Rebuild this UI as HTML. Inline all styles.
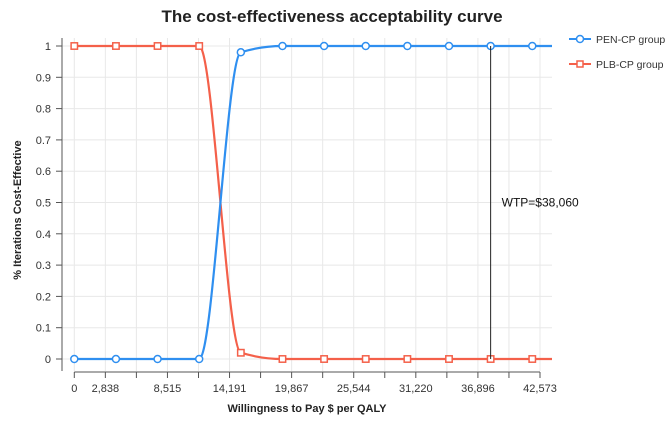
<!DOCTYPE html>
<html><head><meta charset="utf-8"><style>
body{margin:0;background:#fff;font-family:"Liberation Sans",sans-serif}
svg text{font-family:"Liberation Sans",sans-serif}
</style></head><body>
<svg id="c" width="669" height="417"></svg>
<script>
const xTickLabels=["0","2,838","","8,515","","14,191","","19,867","","25,544","","31,220","","36,896","","42,573"];
const wtpValues=[0,3806,7612,11418,15224,19030,22836,26642,30448,34254,38060,41866];
const penValues=[0,0,0,0,0.98,1,1,1,1,1,1,1];
const plbValues=[1,1,1,1,0.02,0,0,0,0,0,0,0];
const yTicks=[0,0.1,0.2,0.3,0.4,0.5,0.6,0.7,0.8,0.9,1];
const wtpLine=38060;
const NS="http://www.w3.org/2000/svg",svg=document.getElementById('c');
function el(t,a,p){const e=document.createElementNS(NS,t);for(const k in a)e.setAttribute(k,a[k]);(p||svg).appendChild(e);return e;}
const X0=74.3,X1=540,XMAX=42573,Y0=359,Y1=46,PR=552;
const sx=v=>X0+(X1-X0)*v/XMAX, sy=v=>Y0+(Y1-Y0)*v;
let t=el('text',{x:332,y:22,'text-anchor':'middle','font-size':17,'font-weight':'bold',fill:'#222'});t.textContent='The cost-effectiveness acceptability curve';

for(let i=0;i<xTickLabels.length;i++){const x=sx(i*XMAX/15);
 const g=el('line',{x1:x,x2:x,y1:Y1-8,y2:Y0+12,stroke:'#e8e8e8'});
 const tk=el('line',{x1:x,x2:x,y1:372,y2:378,stroke:'#555'});
 if(xTickLabels[i]){const l=el('text',{x:x,y:392,'text-anchor':'middle','font-size':11,fill:'#333'});l.textContent=xTickLabels[i];}
}
yTicks.forEach(v=>{const y=sy(v);
 const g=el('line',{x1:62,x2:PR,y1:y,y2:y,stroke:'#e8e8e8'});
 const tk=el('line',{x1:56,x2:62,y1:y,y2:y,stroke:'#555'});
 const l=el('text',{x:51,y:y+4,'text-anchor':'end','font-size':11,fill:'#333'});l.textContent=String(v);
});
let a=el('line',{x1:62,x2:62,y1:Y1-8,y2:Y0+12,stroke:'#555'});
a=el('line',{x1:X0,x2:X1,y1:372,y2:372,stroke:'#555'});
t=el('text',{x:307,y:412,'text-anchor':'middle','font-size':11,'font-weight':'bold',fill:'#222'});t.textContent='Willingness to Pay $ per QALY';
t=el('text',{x:0,y:0,transform:'translate(21,210) rotate(-90)','text-anchor':'middle','font-size':11,'font-weight':'bold',fill:'#222'});t.textContent='% Iterations Cost-Effective';
function mono(xs,ys){const n=xs.length,d=[],m=[];for(let i=0;i<n-1;i++)d.push((ys[i+1]-ys[i])/(xs[i+1]-xs[i]));
 m[0]=d[0];m[n-1]=d[n-2];for(let i=1;i<n-1;i++){if(d[i-1]*d[i]<=0)m[i]=0;else{const h0=xs[i]-xs[i-1],h1=xs[i+1]-xs[i];const p=(d[i-1]*h1+d[i]*h0)/(h0+h1);m[i]=(Math.sign(d[i-1])+Math.sign(d[i]))*Math.min(Math.abs(d[i-1]),Math.abs(d[i]),0.5*Math.abs(p));}}
 let s=`M${xs[0]},${ys[0]}`;for(let i=0;i<n-1;i++){const h=(xs[i+1]-xs[i])/3;s+=`C${xs[i]+h},${ys[i]+m[i]*h} ${xs[i+1]-h},${ys[i+1]-m[i+1]*h} ${xs[i+1]},${ys[i+1]}`;}return s;}
function series(vals,col,shape,name){const xs=wtpValues.map(sx).concat([PR]),ys=vals.map(sy).concat([sy(vals[vals.length-1])]);
 const p=el('path',{d:mono(xs,ys),fill:'none',stroke:col,'stroke-width':2.2});
 vals.forEach((v,i)=>{const x=sx(wtpValues[i]),y=sy(v);let m;
  if(shape==='c')m=el('circle',{cx:x,cy:y,r:3.5,fill:'#fff',stroke:col,'stroke-width':1.5});
  else m=el('rect',{x:x-3.2,y:y-3.2,width:6.4,height:6.4,fill:'#fff',stroke:col,'stroke-width':1.5});
  });}
series(plbValues,'#f4604a','s','plb-cp');
series(penValues,'#2f8ff0','c','pen-cp');
const wx=sx(wtpLine);
a=el('line',{x1:wx,x2:wx,y1:sy(1),y2:sy(0),stroke:'#222','stroke-width':1});
t=el('text',{x:wx+11,y:sy(0.5)+4,'font-size':12,fill:'#111'});t.textContent='WTP=$38,060';
[['PEN-CP group','#2f8ff0','c',39],['PLB-CP group','#f4604a','s',64]].forEach(([lab,col,sh,y])=>{
 const g=el('g',{});
 el('line',{x1:569,x2:591,y1:y,y2:y,stroke:col,'stroke-width':2},g);
 if(sh==='c')el('circle',{cx:580,cy:y,r:3.5,fill:'#fff',stroke:col,'stroke-width':1.5},g);
 else el('rect',{x:577,y:y-3,width:6,height:6,fill:'#fff',stroke:col,'stroke-width':1.5},g);
 const tx=el('text',{x:596,y:y+4,'font-size':10.5,fill:'#333'},g);tx.textContent=lab;});
</script></body></html>
